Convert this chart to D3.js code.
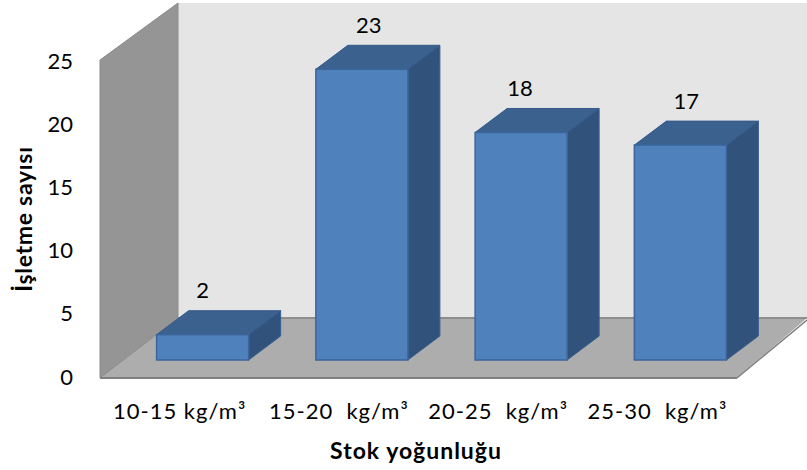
<!DOCTYPE html>
<html>
<head>
<meta charset="utf-8">
<script src="https://cdn.jsdelivr.net/npm/d3@7"></script>
<style>
  html, body { margin: 0; padding: 0; background: #fff; }
  svg { display: block; }
  text { font-family: Lato, "Open Sans", sans-serif; fill: #000; }
</style>
</head>
<body>
<svg id="chart"></svg>
<script>
const categories = ["10-15 kg/m³", "15-20  kg/m³", "20-25  kg/m³", "25-30  kg/m³"];
const values = [2, 23, 18, 17];
const yTicks = [0, 5, 10, 15, 20, 25];
const labelShift = [0, 7, -1, 6];

const w = 807, h = 470;
const svg = d3.select("#chart").attr("width", w).attr("height", h);

// front plane of the 3d box
const x = d3.scaleBand().domain(categories).range([100, 737]).paddingInner(0.422).paddingOuter(0.211);
const y = d3.scaleLinear().domain([0, 25]).range([378, 62]);

const barDx = 32, barDy = -24;
const floorDx = 23, floorDy = -18; // bars sit this far back from the front plane
const pts = a => a.map(p => p.join(",")).join(" ");

// back wall, side wall, floor
svg.append("rect").attr("x", 178).attr("y", 3).attr("width", w - 178).attr("height", 315).attr("fill", "#e5e5e5");
svg.append("polygon")
  .attr("points", pts([[100, 60], [178, 3], [178, 318], [100, 378]]))
  .attr("fill", "#959595").attr("stroke", "#8a8a8a").attr("stroke-width", 1);
svg.append("polygon")
  .attr("points", pts([[100, 378], [178, 318], [807, 318], [737, 378]]))
  .attr("fill", "#adadad");
svg.append("line").attr("x1", 178).attr("y1", 318).attr("x2", 807).attr("y2", 318).attr("stroke", "#8e8e8e").attr("stroke-width", 2);
svg.append("line").attr("x1", 100).attr("y1", 378).attr("x2", 737).attr("y2", 378).attr("stroke", "#808080").attr("stroke-width", 2);
svg.append("line").attr("x1", 737).attr("y1", 378).attr("x2", 807).attr("y2", 320).attr("stroke", "#808080").attr("stroke-width", 1.5);
svg.append("line").attr("x1", 100).attr("y1", 378).attr("x2", 178).attr("y2", 318).attr("stroke", "#8e8e8e").attr("stroke-width", 1);

// bars
const bars = svg.selectAll("g.bar")
  .data(categories.map((c, i) => ({ c, v: values[i], s: labelShift[i] })))
  .enter().append("g").attr("class", "bar");

const barLeft = d => x(d.c) + floorDx;
const barRight = d => barLeft(d) + x.bandwidth();
const barBase = () => y(0) + floorDy;
const barTop = d => y(d.v) + floorDy;

bars.append("polygon")
  .attr("points", d => pts([[barRight(d), barTop(d)], [barRight(d) + barDx, barTop(d) + barDy], [barRight(d) + barDx, barBase() + barDy], [barRight(d), barBase()]]))
  .attr("fill", "#31527b").attr("stroke", "#3a6090").attr("stroke-width", 1);
bars.append("polygon")
  .attr("points", d => pts([[barLeft(d), barTop(d)], [barLeft(d) + barDx, barTop(d) + barDy], [barRight(d) + barDx, barTop(d) + barDy], [barRight(d), barTop(d)]]))
  .attr("fill", "#3b618f").attr("stroke", "#35598a").attr("stroke-width", 1);
bars.append("rect")
  .attr("x", barLeft).attr("y", barTop)
  .attr("width", x.bandwidth()).attr("height", d => barBase() - barTop(d))
  .attr("fill", "#4f81bd").attr("stroke", "#3b669c").attr("stroke-width", 1.5);

bars.append("text")
  .attr("x", d => barLeft(d) + x.bandwidth() / 2 + d.s)
  .attr("y", d => barTop(d) - 44)
  .attr("dy", "0.35em")
  .attr("text-anchor", "middle")
  .attr("font-size", 22)
  .text(d => d.v);

// axes
const yAxis = svg.append("g").attr("transform", "translate(100,-1)")
  .call(d3.axisLeft(y).tickValues(yTicks).tickSize(0).tickPadding(27));
yAxis.select(".domain").remove();
yAxis.selectAll("text").attr("font-size", 22);

const xAxis = svg.append("g").attr("transform", "translate(0,378)")
  .call(d3.axisBottom(x).tickSize(0).tickPadding(25));
xAxis.select(".domain").remove();
xAxis.selectAll("text").attr("font-size", 22).attr("letter-spacing", 1).style("white-space", "pre");

// axis titles
svg.append("text")
  .attr("transform", "translate(32,219) rotate(-90)")
  .attr("text-anchor", "middle")
  .attr("font-size", 23).attr("font-weight", "bold").attr("letter-spacing", 0.7)
  .text("İşletme sayısı");
svg.append("text")
  .attr("x", 416).attr("y", 459)
  .attr("text-anchor", "middle")
  .attr("font-size", 23).attr("font-weight", "bold").attr("letter-spacing", 1)
  .text("Stok yoğunluğu");
</script>
</body>
</html>
